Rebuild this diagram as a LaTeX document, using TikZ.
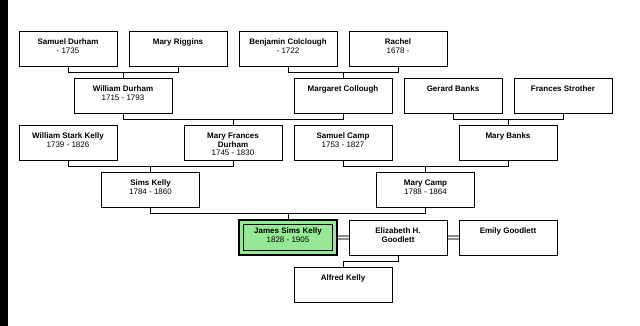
\documentclass[tikz,border=0pt]{standalone}
\usepackage{fontspec}
\setmainfont{Liberation Sans}
\usetikzlibrary{backgrounds}
\definecolor{focusgreen}{RGB}{150,232,150}
\tikzset{
  person/.style={draw=black, line width=0.8pt, fill=white, minimum width=98pt, minimum height=35pt, inner sep=0pt, outer sep=0pt},
  focusbox/.style={person, line width=2.4pt, fill=focusgreen},
  ptext/.style={anchor=north, inner sep=0pt, align=center, font=\fontsize{8}{8.5}\selectfont, text=black},
  conn/.style={draw=black, line width=0.8pt},
  spouse/.style={draw=black!45, line width=1.2pt, double=white, double distance=1.8pt},
}
\newcommand\pperson[5][person]{%
  \node[#1] (#2) at (#3pt,-#4pt) {};
  \node[ptext] (#2t) at ([yshift=-8pt]#2.north) {#5};}
\begin{document}
\begin{tikzpicture}[x=1pt,y=1pt]
\useasboundingbox (0,0) rectangle (640,-326);
% row 1
\pperson{sd}{68}{48.5}{\textbf{Samuel Durham}\\- 1735}
\pperson{mr}{178}{48.5}{\textbf{Mary Riggins}}
\pperson{bc}{288}{48.5}{\textbf{Benjamin Colclough}\\- 1722}
\pperson{ra}{398}{48.5}{\textbf{Rachel}\\1678 -}
% row 2
\pperson{wd}{123}{95.5}{\textbf{William Durham}\\1715 - 1793}
\pperson{mc}{343}{95.5}{\textbf{Margaret Collough}}
\pperson{gb}{453}{95.5}{\textbf{Gerard Banks}}
\pperson{fs}{563}{95.5}{\textbf{Frances Strother}}
% row 3
\pperson{wsk}{68}{142.5}{\textbf{William Stark Kelly}\\1739 - 1826}
\pperson{mfd}{233}{142.5}{\textbf{Mary Frances}\\\textbf{Durham}\\1745 - 1830}
\pperson{sc}{343}{142.5}{\textbf{Samuel Camp}\\1753 - 1827}
\pperson{mb}{508}{142.5}{\textbf{Mary Banks}}
% row 4
\pperson{sk}{150.5}{189.5}{\textbf{Sims Kelly}\\1784 - 1860}
\pperson{mcp}{425.5}{189.5}{\textbf{Mary Camp}\\1788 - 1864}
% row 5
\pperson[focusbox]{jsk}{288}{237.5}{\textbf{James Sims Kelly}\\1828 - 1905}
\draw[line width=0.8pt] ([shift={(4.5pt,-4.5pt)}]jsk.north west) rectangle ([shift={(-4.5pt,4.5pt)}]jsk.south east);
\pperson{eg}{398}{237.5}{\textbf{Elizabeth H.}\\\textbf{Goodlett}}
\pperson{emg}{508}{237.5}{\textbf{Emily Goodlett}}
% row 6
\pperson{ak}{343}{284.5}{\textbf{Alfred Kelly}}
\begin{scope}[on background layer]
  \fill[white] (0,0) rectangle (640,-326);
  \fill[black] (0,0) rectangle (8,-326);
  \draw[conn] (sd.south) -- ++(0,-6) -| (mr.south);
  \draw[conn] (wd.north) -- ++(0,6);
  \draw[conn] (bc.south) -- ++(0,-6) -| (ra.south);
  \draw[conn] (mc.north) -- ++(0,6);
  \draw[conn] (gb.south) -- ++(0,-6) -| (fs.south);
  \draw[conn] (mb.north) -- ++(0,6);
  \draw[conn] (wd.south) -- ++(0,-6) -| (mc.south);
  \draw[conn] (mfd.north) -- ++(0,6);
  \draw[conn] (wsk.south) -- ++(0,-6) -| (mfd.south);
  \draw[conn] (sk.north) -- ++(0,6);
  \draw[conn] (sc.south) -- ++(0,-6) -| (mb.south);
  \draw[conn] (mcp.north) -- ++(0,6);
  \draw[conn] (sk.south) -- ++(0,-6) -| (mcp.south);
  \draw[conn] (jsk.north) -- ++(0,6);
  \draw[conn] (eg.south) -- ++(0,-6) -| (ak.north);
  \draw[spouse] (jsk.east) -- (eg.west);
  \draw[spouse] (eg.east) -- (emg.west);
\end{scope}
\end{tikzpicture}
\end{document}
